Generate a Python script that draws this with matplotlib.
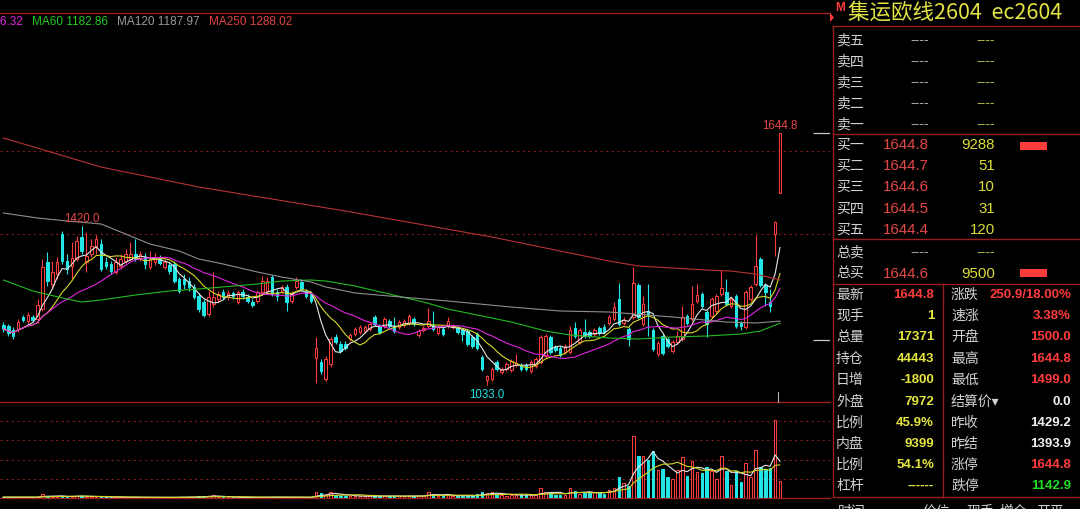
import numpy as np
import pandas as pd
import matplotlib
matplotlib.use('Agg')
import matplotlib.pyplot as plt
from matplotlib.patches import Rectangle, Polygon
from matplotlib.lines import Line2D

W, H, DPI = 1080, 510, 100

# ---------------- data (daily bars) ----------------
opens = [
    1179, 1176, 1166, 1169, 1198, 1188, 1198, 1193, 1217, 1332,
    1278, 1302, 1400, 1334, 1322, 1339, 1392, 1332, 1351, 1368,
    1375, 1332, 1327, 1307, 1322, 1334, 1339, 1351, 1341, 1344,
    1319, 1332, 1341, 1319, 1324, 1327, 1290, 1290, 1285, 1271,
    1249, 1234, 1205, 1230, 1242, 1259, 1247, 1256, 1234, 1259,
    1247, 1234, 1237, 1259, 1261, 1295, 1259, 1261, 1271, 1237,
    1271, 1283, 1261, 1254, 1098, 1089, 1047, 1084, 1149, 1132,
    1132, 1145, 1157, 1162, 1164, 1169, 1198, 1176, 1176, 1188,
    1176, 1174, 1179, 1183, 1193, 1154, 1166, 1176, 1179, 1159,
    1169, 1176, 1174, 1174, 1166, 1164, 1149, 1157, 1101, 1045,
    1047, 1089, 1065, 1072, 1069, 1082, 1082, 1082, 1067, 1079,
    1089, 1103, 1149, 1125, 1123, 1113, 1113, 1171, 1137, 1162,
    1162, 1157, 1171, 1174, 1183, 1193, 1242, 1183, 1169, 1198,
    1276, 1181, 1213, 1166, 1108, 1152, 1145, 1115, 1137, 1145,
    1200, 1193, 1237, 1254, 1210, 1200, 1213, 1254, 1259, 1225,
    1249, 1183, 1174, 1242, 1278, 1339, 1276, 1234, 1400.0, 1500.0,
]
closes = [
    1169, 1159, 1152, 1186, 1191, 1203, 1191, 1227, 1319, 1285,
    1307, 1332, 1334, 1315, 1341, 1383, 1358, 1346, 1370, 1387,
    1315, 1322, 1310, 1332, 1339, 1351, 1351, 1339, 1351, 1327,
    1339, 1341, 1329, 1332, 1310, 1285, 1261, 1278, 1271, 1247,
    1217, 1203, 1247, 1247, 1254, 1247, 1256, 1249, 1259, 1249,
    1237, 1227, 1259, 1285, 1285, 1254, 1249, 1271, 1234, 1254,
    1285, 1266, 1249, 1237, 1123, 1067, 1096, 1145, 1137, 1115,
    1123, 1154, 1169, 1174, 1174, 1181, 1181, 1162, 1193, 1176,
    1164, 1186, 1188, 1200, 1181, 1164, 1171, 1188, 1169, 1174,
    1157, 1188, 1176, 1162, 1157, 1132, 1128, 1123, 1072, 1055,
    1072, 1072, 1072, 1084, 1091, 1086, 1072, 1072, 1089, 1096,
    1149, 1152, 1113, 1118, 1106, 1128, 1166, 1152, 1166, 1152,
    1152, 1166, 1159, 1162, 1198, 1222, 1181, 1191, 1145, 1281,
    1198, 1230, 1203, 1120, 1135, 1111, 1128, 1137, 1152, 1198,
    1183, 1230, 1251, 1225, 1181, 1242, 1249, 1268, 1230, 1242,
    1176, 1176, 1259, 1271, 1322, 1276, 1259, 1225, 1429.2, 1644.8,
]
highs = [
    1186, 1181, 1174, 1193, 1203, 1210, 1203, 1242, 1339, 1356,
    1334, 1344, 1407, 1351, 1380, 1395, 1420, 1404, 1387, 1397,
    1387, 1344, 1334, 1344, 1351, 1363, 1380, 1387, 1358, 1353,
    1358, 1353, 1349, 1339, 1332, 1334, 1295, 1302, 1295, 1278,
    1256, 1242, 1261, 1307, 1261, 1266, 1264, 1261, 1264, 1266,
    1254, 1242, 1264, 1298, 1295, 1300, 1266, 1276, 1278, 1261,
    1295, 1290, 1266, 1259, 1149, 1096, 1103, 1149, 1157, 1140,
    1140, 1159, 1174, 1179, 1179, 1186, 1203, 1181, 1198, 1193,
    1198, 1191, 1193, 1205, 1198, 1169, 1176, 1220, 1213, 1179,
    1174, 1198, 1181, 1179, 1171, 1169, 1154, 1162, 1106, 1057,
    1077, 1094, 1077, 1089, 1096, 1108, 1086, 1086, 1094, 1101,
    1154, 1157, 1154, 1130, 1128, 1132, 1176, 1186, 1171, 1193,
    1166, 1171, 1176, 1181, 1203, 1234, 1281, 1198, 1174, 1319,
    1281, 1249, 1278, 1171, 1140, 1157, 1149, 1142, 1164, 1225,
    1205, 1273, 1278, 1259, 1215, 1247, 1254, 1312, 1290, 1247,
    1254, 1188, 1264, 1276, 1397, 1344, 1281, 1266, 1432.0, 1644.8,
]
lows = [
    1162, 1152, 1145, 1162, 1186, 1183, 1186, 1183, 1213, 1273,
    1266, 1290, 1327, 1302, 1290, 1334, 1351, 1307, 1344, 1351,
    1310, 1315, 1302, 1302, 1315, 1329, 1334, 1334, 1334, 1315,
    1315, 1324, 1324, 1315, 1302, 1281, 1256, 1266, 1261, 1242,
    1210, 1198, 1200, 1222, 1234, 1242, 1239, 1242, 1230, 1242,
    1232, 1222, 1232, 1251, 1256, 1249, 1237, 1256, 1213, 1232,
    1266, 1261, 1244, 1232, 1038, 1060, 1043, 1077, 1132, 1111,
    1118, 1140, 1152, 1157, 1159, 1164, 1176, 1157, 1171, 1171,
    1159, 1169, 1174, 1179, 1176, 1149, 1162, 1171, 1164, 1154,
    1152, 1171, 1169, 1157, 1140, 1128, 1123, 1118, 1067, 1033.0,
    1043, 1067, 1060, 1067, 1065, 1077, 1067, 1067, 1062, 1074,
    1084, 1098, 1108, 1113, 1101, 1108, 1108, 1147, 1132, 1147,
    1147, 1152, 1154, 1157, 1179, 1188, 1176, 1179, 1128, 1193,
    1193, 1176, 1152, 1115, 1103, 1106, 1123, 1111, 1132, 1140,
    1179, 1188, 1232, 1220, 1149, 1196, 1208, 1249, 1225, 1220,
    1171, 1166, 1169, 1237, 1273, 1271, 1225, 1210, 1346.0, 1499.0,
]
volumes = [
    900, 800, 1000, 900, 700, 800, 700, 1500, 4000, 2000,
    1500, 1200, 2400, 1500, 1300, 2600, 2000, 1500, 1200, 1000,
    1300, 900, 800, 900, 800, 700, 800, 700, 600, 800,
    700, 600, 600, 700, 700, 900, 1000, 800, 900, 1000,
    2200, 1600, 2400, 2800, 1000, 800, 700, 700, 900, 600,
    700, 800, 900, 1200, 1000, 1100, 800, 700, 900, 800,
    900, 800, 700, 800, 6000, 5000, 3200, 6000, 3500, 2500,
    2000, 2200, 1800, 1900, 1700, 2000, 2300, 2100, 1800, 2000,
    2200, 1900, 1800, 2100, 2000, 2600, 2000, 6000, 4500, 2000,
    2000, 4000, 2000, 2000, 2200, 2000, 2400, 4000, 6000, 5000,
    6000, 4000, 3000, 2500, 3000, 3500, 3000, 3000, 3000, 3000,
    10400, 6000, 6000, 3500, 3500, 3000, 10000, 7000, 4500, 5000,
    6000, 6000, 6000, 4500, 8000, 10000, 22000, 16000, 13000, 65000,
    44000, 44000, 40000, 49000, 29000, 30000, 22000, 20000, 29000, 43000,
    23000, 38000, 27000, 26000, 32000, 28000, 20000, 44000, 28000, 13500,
    28000, 16600, 36000, 22000, 50000, 32000, 30000, 31000, 81000, 17371,
]

# long moving averages (bar index, value)
ma60_idx = [0, 6, 13, 16, 20, 27, 34, 40, 52, 57, 63, 66, 72, 79, 86, 91, 98,
            104, 111, 116, 124, 130, 137, 144, 151, 155, 159]
ma60_val = [1287.9, 1261.2, 1241.8, 1234.5, 1239.3, 1251.4, 1261.2, 1266.0,
            1278.2, 1285.4, 1287.9, 1285.4, 1273.3, 1253.9, 1234.5, 1217.5,
            1200.5, 1185.9, 1164.1, 1154.4, 1147.1, 1144.6, 1149.5, 1151.9,
            1156.8, 1164.1, 1182.86]
ma120_idx = [0, 7, 13, 20, 25, 30, 36, 40, 45, 52, 57, 63, 66, 72, 79, 91,
             104, 114, 124, 137, 148, 154, 159]
ma120_val = [1450.6, 1438.4, 1431.2, 1423.9, 1399.6, 1375.3, 1358.3, 1338.9,
             1326.7, 1307.3, 1295.1, 1283.0, 1270.9, 1256.3, 1249.0, 1236.9,
             1222.3, 1212.6, 1210.2, 1198.1, 1185.9, 1183.5, 1187.97]
ma250_idx = [0, 20, 40, 55, 70, 85, 100, 110, 117, 124, 130, 137, 144, 149,
             154, 159]
ma250_val = [1632.7, 1562.2, 1513.7, 1484.5, 1455.4, 1423.9, 1392.3, 1368.0,
             1351.0, 1334.0, 1321.9, 1317.0, 1312.1, 1309.7, 1302.4, 1288.02]

legend_texts = ['MA20 1266.32', 'MA60 1182.86', 'MA120 1187.97', 'MA250 1288.02']

limit_up, limit_down = 1644.8, 1142.9
grid_prices = [1600, 1400]
grid_vols = [20000, 40000, 60000, 80000]

sell_labels = ['卖五', '卖四', '卖三', '卖二', '卖一']
buy_labels = ['买一', '买二', '买三', '买四', '买五']
buy_prices = ['1644.8', '1644.7', '1644.6', '1644.5', '1644.4']
buy_vols = ['9288', '51', '10', '31', '120']
left_labels = ['最新', '现手', '总量', '持仓', '日增', '外盘', '比例', '内盘', '比例', '杠杆']
left_values = ['1644.8', '1', '17371', '44443', '-1800', '7972', '45.9%', '9399', '54.1%', '------']
right_labels = ['涨跌', '速涨', '开盘', '最高', '最低', '结算价▾', '昨收', '昨结', '涨停', '跌停']
right_values = ['250.9/18.00%', '3.38%', '1500.0', '1644.8', '1499.0', '0.0',
                '1429.2', '1393.9', '1644.8', '1142.9']

# ---------------- styling ----------------
RED = '#ff3c3c'
TRED = '#e54848'
CYAN = '#22e6e6'
BORDER = '#9a1e1e'
GRID = '#7e1c1c'
YEL = '#e6e640'
LAB = '#d2d2d2'
GRN = '#22dd22'
WHT = '#f0f0f0'
CJK = ['Noto Sans CJK SC', 'DejaVu Sans']
NUM = ['Liberation Sans', 'DejaVu Sans']

X0, DX = 3.4, 4.884          # pixel position of bar 0, bar spacing
XL = (0 - X0) / DX
XR = (830 - X0) / DX

fig = plt.figure(figsize=(W / DPI, H / DPI), dpi=DPI, facecolor='black')


def fx(x):
    return x / W


def fy(y):
    return 1 - y / H


ax = fig.add_axes([0, fy(402), fx(830), (402 - 14) / H])
axv = fig.add_axes([0, fy(499), fx(830), (499 - 403) / H])
for a in (ax, axv):
    a.set_facecolor('black')
    a.set_xlim(XL, XR)
    a.set_xticks([])
    a.set_yticks([])
    for s in a.spines.values():
        s.set_visible(False)
ax.set_ylim(994.1, 1936.2)
axv.set_ylim(0, 99840)
for a, sides in ((ax, ['top']), (axv, ['top', 'bottom'])):
    for sd in sides:
        a.spines[sd].set_visible(True)
        a.spines[sd].set_color(BORDER)
        a.spines[sd].set_linewidth(1.0)

for gp in grid_prices:
    ax.axhline(gp, color=GRID, lw=0.8, ls=(0, (2, 3)), zorder=1)
for gv in grid_vols:
    axv.axhline(gv, color=GRID, lw=0.8, ls=(0, (2, 3)), zorder=1)

n = len(closes)
idx = np.arange(n)
BW = 0.52
for i in range(n):
    o, c, h, l = opens[i], closes[i], highs[i], lows[i]
    up = c >= o
    col = RED if up else CYAN
    lo, hi = min(o, c), max(o, c)
    ax.vlines(i, hi, h, color=col, lw=0.8, zorder=2)
    ax.vlines(i, l, lo, color=col, lw=0.8, zorder=2)
    ax.add_patch(Rectangle((i - BW / 2, lo), BW, max(hi - lo, 0.8),
                           facecolor='black' if up else col, edgecolor=col,
                           lw=0.75, zorder=3))
    axv.add_patch(Rectangle((i - BW / 2, 0), BW, volumes[i],
                            facecolor='black' if up else col, edgecolor=col,
                            lw=0.75, zorder=3))

cs = pd.Series(closes, dtype=float)
ax.plot(idx, cs.rolling(5, min_periods=1).mean(), color='#e6e6e6', lw=0.8, zorder=4)
ax.plot(idx, cs.rolling(10, min_periods=1).mean(), color='#d6d626', lw=0.8, zorder=4)
ax.plot(idx, cs.rolling(20, min_periods=1).mean(), color='#e024e0', lw=0.8, zorder=4)
ax.plot(ma60_idx, ma60_val, color='#22bb22', lw=0.8, zorder=4)
ax.plot(ma120_idx, ma120_val, color='#8e8e8e', lw=0.8, zorder=4)
ax.plot(ma250_idx, ma250_val, color='#b83232', lw=0.8, zorder=4)

vs = pd.Series(volumes, dtype=float)
axv.plot(idx, vs.rolling(5, min_periods=1).mean(), color='#e6e6e6', lw=0.8, zorder=4)
axv.plot(idx, vs.rolling(10, min_periods=1).mean(), color='#d6d626', lw=0.8, zorder=4)

# extreme labels
ihi = int(np.argmax(highs[:60]))
ilo = int(np.argmin(lows))
ax.annotate(f'{highs[ihi]:.1f}', (ihi, highs[ihi]), xytext=(0, 5.2), textcoords='offset points',
            ha='center', va='center', color=TRED, fontsize=8.3, family=NUM, zorder=6)
ax.annotate(f'{highs[-1]:.1f}', (n - 1, highs[-1]), xytext=(0, 5.8), textcoords='offset points',
            ha='center', va='center', color=TRED, fontsize=8.3, family=NUM, zorder=6)
ax.annotate(f'{lows[ilo]:.1f}', (ilo, lows[ilo]), xytext=(0, -6.5), textcoords='offset points',
            ha='center', va='center', color=CYAN, fontsize=8.3, family=NUM, zorder=6)

# limit ticks on the right edge
for lp in (limit_up, limit_down):
    ax.hlines(lp, (813 - X0) / DX, XR, color='#c8c8c8', lw=0.9, zorder=5)


def ftext(x, y, s, color, size, ha='left', weight='normal', family=None):
    fig.text(fx(x), fy(y), s, color=color, fontsize=size, ha=ha, va='center',
             fontweight=weight, family=family or CJK)


def fline(x0, y0, x1, y1, color=BORDER, lw=1.0):
    fig.add_artist(Line2D([fx(x0), fx(x1)], [fy(y0), fy(y1)],
                          transform=fig.transFigure, color=color, lw=lw))


def fbar(x0, y0, x1, y1, color):
    fig.add_artist(Rectangle((fx(x0), fy(y1)), (x1 - x0) / W, (y1 - y0) / H,
                             transform=fig.transFigure, color=color, lw=0))


# MA legend (first entry is clipped by the left edge, as in the original)
leg_colors = ['#e024e0', '#22cc22', '#9a9a9a', '#e04444']
ftext(23, 22, legend_texts[0], leg_colors[0], 8.5, ha='right', family=NUM)
for s, xx, cc in zip(legend_texts[1:], [32, 117, 209], leg_colors[1:]):
    ftext(xx, 22, s, cc, 8.5, family=NUM)

# cursor tick and corner marker
fline(777.5, 393, 777.5, 403, color='#b0b0b0', lw=0.8)
fig.add_artist(Polygon([[fx(830), fy(14)], [fx(834), fy(18.5)], [fx(830), fy(23)]],
                       closed=True, transform=fig.transFigure, color=RED, lw=0))

# right panel
ftext(835.5, 8, 'M', RED, 8.5, weight='bold', family=NUM)
ftext(848, 13, '集运欧线2604  ec2604', '#e2e244', 15.5)
fline(833, 27, 1080, 27)
fline(833, 27, 833, 498)
fline(833, 135, 1080, 135)
fline(833, 240, 1080, 240)
fline(833, 285, 1080, 285)
fline(943, 285, 943, 498)
fline(833, 498, 1080, 498)

sell_y = [40, 61, 82, 103, 124]
for lab, yy in zip(sell_labels, sell_y):
    ftext(836, yy, lab, LAB, 10)
    ftext(929, yy, '----', '#b0b0b0', 10, ha='right', family=NUM)
    ftext(995, yy, '----', '#b8b84a', 10, ha='right', family=NUM)

buy_y = [145, 166, 187, 209, 230]
for lab, pr, vo, yy in zip(buy_labels, buy_prices, buy_vols, buy_y):
    ftext(836, yy, lab, LAB, 10)
    ftext(929, yy, pr, TRED, 10.8, ha='right', family=NUM)
    ftext(995, yy, vo, '#dcdc3c', 10.8, ha='right', family=NUM)
fbar(1020, 143, 1047, 151, RED)

ftext(836, 252, '总卖', LAB, 10)
ftext(929, 252, '----', '#b0b0b0', 10, ha='right', family=NUM)
ftext(995, 252, '----', '#b8b84a', 10, ha='right', family=NUM)
ftext(836, 274, '总买', LAB, 10)
ftext(929, 274, '1644.6', TRED, 10.8, ha='right', family=NUM)
ftext(995, 274, '9500', '#dcdc3c', 10.8, ha='right', family=NUM)
fbar(1020, 270, 1047, 278, RED)

rows_y = [295, 316, 337, 359, 380, 402, 423, 444, 465, 486]
left_colors = [RED] + [YEL] * 9
right_colors = [RED, RED, RED, RED, RED, WHT, WHT, WHT, RED, GRN]
for j, yy in enumerate(rows_y):
    ftext(836, yy, left_labels[j], LAB, 10)
    ftext(934, yy, left_values[j], left_colors[j], 9.5, ha='right', weight='bold', family=NUM)
    ftext(951, yy, right_labels[j], LAB, 10)
    ftext(1071, yy, right_values[j], right_colors[j], 9.5, ha='right', weight='bold', family=NUM)

# column header of the trade list, cut by the bottom edge as in the original
for s, xx in zip(['时间', '价位', '现手', '增仓', '开平'], [852, 936, 980, 1013, 1050]):
    ftext(xx, 512, s, LAB, 10, ha='center')

fig.savefig('out.png', dpi=DPI, facecolor='black')
